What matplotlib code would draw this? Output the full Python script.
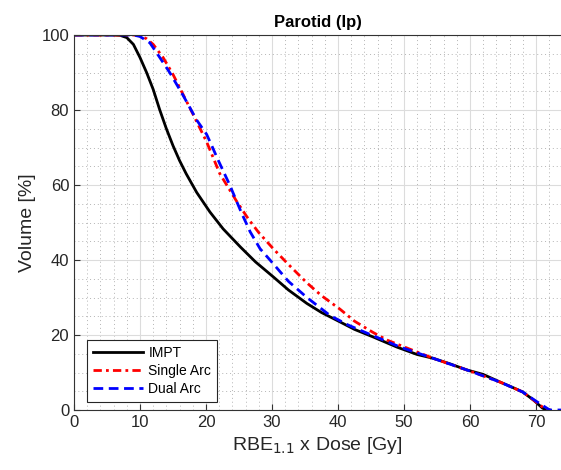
import numpy as np
import matplotlib
matplotlib.use('Agg')
import matplotlib.pyplot as plt
from matplotlib.ticker import MultipleLocator

plt.rcParams['font.family'] = ['Liberation Sans', 'DejaVu Sans']

# IMPT
impt_dose = [0, 6, 7, 8, 9, 10, 11, 12, 13, 14, 15, 16, 17, 18.6, 20.6, 22.6,
             25.2, 27.5, 30.2, 32.5, 35.3, 37.5, 40.3, 42.5, 45.3, 48.9, 52,
             54.4, 57, 59.5, 62, 64.5, 66.5, 68, 69.6, 71, 71.6, 72]
impt_vol = [100, 100, 99.9, 99.3, 97.5, 94, 90, 85.5, 80, 75, 70.5, 66.5, 63, 58,
            52.8, 48.3, 43.5, 39.5, 35.5, 32, 28.4, 26, 23.5, 21.5, 19.5, 16.8,
            14.8, 13.8, 12.3, 10.7, 9.5, 7.5, 6, 4.8, 2.7, 0.5, 0, 0]

# Single Arc
single_dose = [0, 9, 10, 11, 12, 13.5, 15, 16, 18, 20.1, 22.1, 24.7, 26.4, 28,
               30.2, 32.5, 35.3, 37.5, 40.3, 42.5, 45.3, 47.5, 50.5, 54.4, 59.5,
               64.5, 68, 69.6, 71, 71.7, 72.2]
single_vol = [100, 100, 99.8, 99, 97.5, 94, 89.5, 86, 79, 71.5, 63, 55.5, 51, 47.3,
              43, 38.8, 33.9, 30.5, 26.9, 23.7, 20.7, 18.6, 16.5, 13.8, 10.7,
              7.5, 4.8, 2.7, 0.8, 0, 0]

# Dual Arc
dual_dose = [0, 9, 10, 11.5, 13, 14.5, 16.5, 18.6, 20.1, 21, 21.8, 23.6, 25.4,
             26.7, 28.2, 29.7, 32.5, 35.3, 38.8, 41.5, 44.4, 49.4, 54.4, 59.5,
             64.5, 68, 69.9, 71.2, 72.1, 74]
dual_vol = [100, 100, 99.6, 97.9, 94, 90, 84, 77.3, 73.5, 70, 66.8, 60, 52.5,
            47.5, 43, 40, 34.3, 30, 25.2, 22.7, 20.5, 16.8, 13.8, 10.7, 7.5, 4.8,
            2.5, 1, 0, 0]

fig = plt.figure(figsize=(5.61, 4.70), dpi=100)
ax = fig.add_axes([74 / 561, 60 / 470, 487 / 561, 375 / 470])

ax.plot(impt_dose, impt_vol, color='k', lw=2, label='IMPT')
ax.plot(single_dose, single_vol, color='#ff0000', lw=2, ls=(0, (3, 1.5, 1, 1.5)),
        label='Single Arc')
ax.plot(dual_dose, dual_vol, color='#0000ff', lw=2, ls=(0, (3.5, 2)), label='Dual Arc')

ax.set_xlim(0, 73.8)
ax.set_ylim(0, 100)
ax.xaxis.set_major_locator(MultipleLocator(10))
ax.xaxis.set_minor_locator(MultipleLocator(2))
ax.yaxis.set_major_locator(MultipleLocator(20))
ax.yaxis.set_minor_locator(MultipleLocator(5))
ax.grid(True, which='major', color='#dcdcdc', lw=0.8)
ax.grid(True, which='minor', color='#b4b4b4', lw=0.7, ls=(0, (1, 3)))
ax.set_axisbelow(True)
ax.tick_params(which='minor', length=0)
ax.tick_params(which='major', direction='in', length=4, labelsize=12,
               color='#333333', labelcolor='#262626')
for side in ['left', 'bottom', 'top']:
    ax.spines[side].set_color('#333333')
ax.spines['right'].set_visible(False)

ax.set_xlabel('RBE$_{1.1}$ x Dose [Gy]', fontsize=14, color='#262626')
ax.set_ylabel('Volume [%]', fontsize=14, color='#262626')
ax.set_title('Parotid (Ip)', fontsize=12, fontweight='bold', pad=6)

leg = ax.legend(loc='lower left', fontsize=10, fancybox=False, framealpha=1,
                edgecolor='#262626', handlelength=3.6, borderaxespad=0.6,
                labelspacing=0.3, handletextpad=0.4,
                bbox_to_anchor=(0.01, 0.0))
leg.get_frame().set_linewidth(0.8)

fig.savefig('out.png', dpi=100)
